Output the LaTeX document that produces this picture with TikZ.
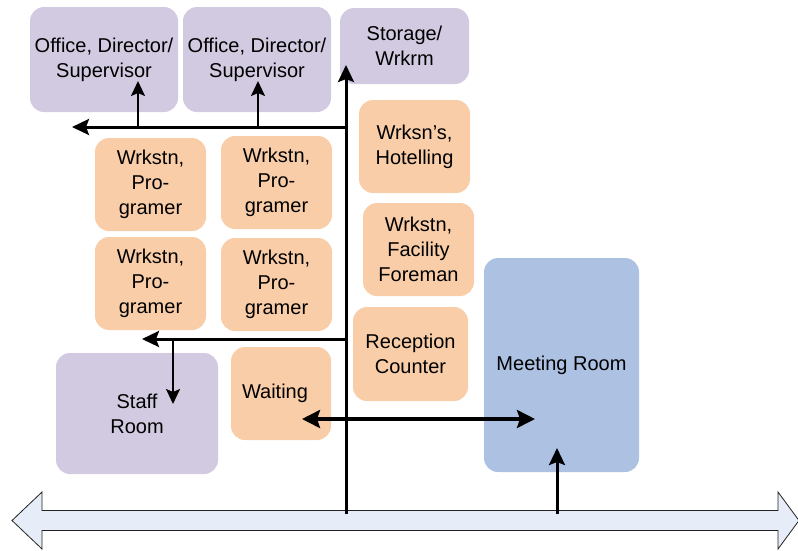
\documentclass[tikz,border=0pt]{standalone}
\usepackage{fontspec}
\setmainfont{Liberation Sans}
\usetikzlibrary{arrows.meta}
\definecolor{roomPurple}{HTML}{D2CAE0}
\definecolor{roomOrange}{HTML}{F9CDA8}
\definecolor{roomBlue}{HTML}{ADC2E3}
\definecolor{busFill}{HTML}{E6EDF8}
\definecolor{busDraw}{HTML}{222222}
\tikzset{
  room/.style={rounded corners=14pt, draw=none, align=center, inner sep=0pt,
    font=\fontsize{20}{25}\selectfont},
  purpleroom/.style={room, fill=roomPurple},
  orangeroom/.style={room, fill=roomOrange},
  blueroom/.style={room, fill=roomBlue},
  thickflow/.style={line width=3pt, -{Stealth[length=17pt,width=16pt,inset=3pt]}},
  thinflow/.style={line width=2pt, -{Stealth[length=15pt,width=14pt,inset=3pt]}},
  bothflow/.style={line width=3.5pt, {Stealth[length=18pt,width=18pt,inset=3pt]}-{Stealth[length=18pt,width=18pt,inset=3pt]}},
  busarrow/.style={fill=busFill, draw=busDraw, line width=0.8pt, line join=miter}
}
\begin{document}
\begin{tikzpicture}[x=1pt,y=-1pt]
\useasboundingbox (0,0) rectangle (798,550);

% rooms
\node[purpleroom, minimum width=148pt, minimum height=105pt] (off1) at (104,59.5) {Office, Director/\\Supervisor};
\node[purpleroom, minimum width=148pt, minimum height=105pt] (off2) at (257,59.5) {Office, Director/\\Supervisor};
\node[purpleroom, minimum width=129pt, minimum height=76pt] (stor) at (404.5,46) {Storage/\\Wrkrm};
\node[orangeroom, minimum width=111pt, minimum height=93pt] (hotel) at (414.5,146.5) {Wrksn’s,\\Hotelling};
\node[orangeroom, minimum width=111pt, minimum height=93pt] (prog1) at (150.5,184.5) {Wrkstn,\\Pro-\\gramer};
\node[orangeroom, minimum width=111pt, minimum height=93pt] (prog2) at (276.5,182.5) {Wrkstn,\\Pro-\\gramer};
\node[orangeroom, minimum width=111pt, minimum height=93pt] (prog3) at (150.5,283.5) {Wrkstn,\\Pro-\\gramer};
\node[orangeroom, minimum width=111pt, minimum height=93pt] (prog4) at (276.5,284.5) {Wrkstn,\\Pro-\\gramer};
\node[orangeroom, minimum width=111pt, minimum height=93pt] (fore) at (418.5,249.5) {Wrkstn,\\Facility\\Foreman};
\node[orangeroom, minimum width=115pt, minimum height=94pt] (recep) at (410.5,354) {Reception\\Counter};
\node[blueroom, minimum width=155pt, minimum height=214pt] (meet) at (561.5,365) {Meeting Room};
\node[purpleroom, minimum width=162pt, minimum height=121pt] (staff) at (137,413.5) {Staff\\Room};
\node[orangeroom, minimum width=100pt, minimum height=93pt] (wait) at (281,393.5) {\hspace*{-12pt}Waiting};

% main corridor (big double arrow)
\path[busarrow] (12,520.5) -- (42,492) -- (42,510.5) -- (778,510.5) -- (778,492)
  -- (799,520.5) -- (778,549) -- (778,530.5) -- (42,530.5) -- (42,549) -- cycle;
\coordinate (corrA) at (346,514);
\coordinate (corrB) at (557,514);

% junctions and arrow ends
\coordinate (jUp) at (346,127);
\coordinate (jLow) at (346,339);
\coordinate (j1) at (138,127);
\coordinate (j2) at (258,127);
\coordinate (j3) at (173,339);
\coordinate (storTip) at (346,65);
\coordinate (leftTip1) at (72,127);
\coordinate (leftTip2) at (142,339);
\coordinate (off1Tip) at (138,81);
\coordinate (off2Tip) at (258,81);
\coordinate (staffTip) at (173,404);
\coordinate (waitTip) at (302,419);
\coordinate (meetTip) at (535,419);
\coordinate (meetUp) at (557,448);

% connectors
\draw[thickflow] (corrA) -- (storTip);
\draw[thickflow] (jUp) -- (leftTip1);
\draw[thinflow] (j1) -- (off1Tip);
\draw[thinflow] (j2) -- (off2Tip);
\draw[thickflow] (jLow) -- (leftTip2);
\draw[thinflow] (j3) -- (staffTip);
\draw[bothflow] (waitTip) -- (meetTip);
\draw[thickflow] (corrB) -- (meetUp);
\end{tikzpicture}
\end{document}
